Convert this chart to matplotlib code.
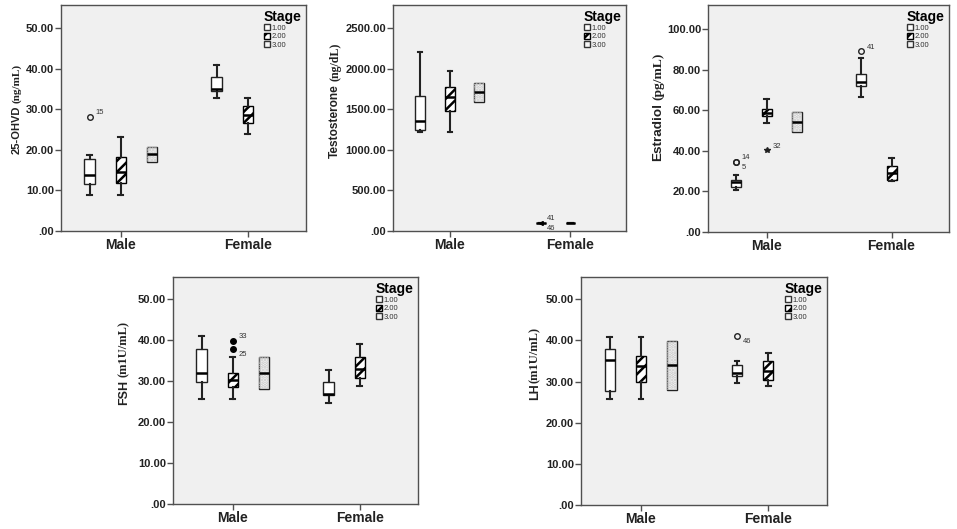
import matplotlib.pyplot as plt
import matplotlib.patches as mpatches
import numpy as np

plt.rcParams['font.family'] = ['Liberation Sans', 'DejaVu Sans']
plt.rcParams['hatch.linewidth'] = 1.8

# box stats per panel: [whislo, q1, med, q3, whishi] for (sex, stage)
sexes = ['Male', 'Female']
stages = ['1.00', '2.00', '3.00']

ohvd_male = [[8.9, 11.5, 13.7, 17.7, 18.8], [8.9, 11.8, 14.5, 18.3, 23.1], [16.9, 16.9, 18.9, 20.8, 20.8]]
ohvd_female = [[32.9, 34.6, 35.0, 37.9, 41.0], [23.9, 26.6, 28.5, 30.9, 32.8]]
ohvd_out = [(0, 0, 28.1, '15', 'o')]

testo_male = [[1225, 1246, 1361, 1669, 2204], [1225, 1480, 1650, 1780, 1978], [1591, 1591, 1715, 1830, 1830]]
testo_female = [[93, 96, 98, 100, 103], [97, 97, 98, 98, 98]]
testo_out = [(1, 0, 104, '41', '<'), (1, 0, 94, '46', '<')]

e2_male = [[20.8, 22.1, 24.4, 25.7, 27.9], [53.9, 56.9, 58.7, 60.7, 65.6], [49.2, 49.2, 54.1, 59.0, 59.0]]
e2_female = [[66.4, 72.0, 74.1, 77.9, 85.9], [25.0, 25.5, 29.0, 32.5, 36.5]]
e2_out = [(0, 0, 34.5, '14', 'o'), (0, 0, 34.4, '5', 'o'), (0, 1, 40.2, '32', '*'), (1, 0, 88.9, '41', 'o')]

fsh_male = [[25.6, 29.7, 31.8, 37.8, 40.9], [25.6, 28.6, 30.3, 31.8, 35.9], [28.0, 28.0, 32.0, 35.9, 35.9]]
fsh_female = [[24.7, 26.6, 26.7, 29.7, 32.7], [28.8, 30.6, 33.0, 35.8, 38.9]]
fsh_out = [(0, 1, 39.7, '33', 'filled'), (0, 1, 37.8, '25', 'filled')]

lh_male = [[25.8, 27.6, 35.3, 37.8, 40.9], [25.8, 29.8, 33.8, 36.1, 40.9], [28.0, 28.0, 34.0, 39.9, 39.9]]
lh_female = [[29.7, 31.4, 32.0, 34.0, 35.0], [28.8, 30.3, 32.5, 35.1, 36.9]]
lh_out = [(1, 0, 41.1, '46', 'o')]

W, H = 957, 529
fig = plt.figure(figsize=(W / 100, H / 100), dpi=100)

def px_axes(left, top, right, bottom):
    return fig.add_axes([left / W, 1 - bottom / H, (right - left) / W, (bottom - top) / H])

offset = 0.245
bw = 0.08
frame_col = '#505050'

def draw_panel(ax, male, female, outliers, ymax, step, ylab_main, ylab_unit, ylab_size,
               ylim_top, lab_x, lab_y, gap=2):
    ax.set_facecolor('#f0f0f0')
    for i, st in enumerate(male + female):
        sex = 0 if i < 3 else 1
        stage = i if i < 3 else i - 3
        stats = [dict(whislo=st[0], q1=st[1], med=st[2], q3=st[3], whishi=st[4], fliers=[])]
        pos = sex + (stage - 1) * offset
        face = ['white', 'white', '#f6f6f6'][stage]
        res = ax.bxp(stats, positions=[pos], widths=bw, patch_artist=True, showfliers=False,
                     boxprops=dict(facecolor=face, edgecolor='#222222', linewidth=1.0),
                     medianprops=dict(color='black', linewidth=1.8),
                     whiskerprops=dict(color='#222222', linewidth=1.5),
                     capprops=dict(color='#222222', linewidth=1.5),
                     capwidths=bw * 0.45, manage_ticks=False)
        box = res['boxes'][0]
        if stage == 1:
            box.set_hatch('///')
            box.set_edgecolor('black')
        elif stage == 2:
            ov = mpatches.PathPatch(box.get_path(), facecolor='none', edgecolor='#c8c8c8',
                                    hatch='.....', linewidth=0, zorder=box.get_zorder() + 0.05)
            ax.add_patch(ov)
            if st[0] == st[1]:
                for c in res['caps'] + res['whiskers']:
                    c.set_visible(False)
    for sex, stage, val, lab, mk in outliers:
        pos = sex + (stage - 1) * offset
        if mk == 'o':
            ax.plot(pos, val, 'o', mfc='none', mec='#222222', ms=4, mew=1, zorder=3)
        elif mk == 'filled':
            ax.plot(pos, val, 'o', color='black', ms=4, zorder=3)
        elif mk == '*':
            ax.plot(pos, val, '*', color='#222222', ms=4, zorder=3)
        else:
            ax.plot(pos, val, '<', color='black', ms=2.5, zorder=3)
        dy = -4 if lab in ('5', '46', '25') else 3
        ax.annotate(lab, (pos, val), xytext=(4, dy), textcoords='offset points',
                    fontsize=5.5, color='#333333', va='center')
    ax.set_xlim(-0.47, 1.46)
    ax.set_ylim(0, ylim_top)
    yt = np.arange(0, ymax + step / 2, step)
    ax.set_yticks(yt)
    ax.set_yticklabels(['.00'] + ['%.2f' % v for v in yt[1:]], fontsize=8, fontweight='bold', color='#222222')
    ax.set_xticks([0, 1])
    ax.set_xticklabels(sexes, fontsize=10, fontweight='bold', color='#222222')
    ax.tick_params(direction='out', length=4, width=1, color=frame_col, pad=1)
    for sp in ax.spines.values():
        sp.set_color(frame_col)
        sp.set_linewidth(1.0)
    ax.set_ylabel(ylab_main, fontsize=ylab_size, fontweight='bold', color='#222222')
    ax.yaxis.set_label_coords(lab_x, lab_y)
    ax.annotate(ylab_unit, xy=(0.5, 1.0), xycoords=ax.yaxis.label, xytext=(0, gap),
                textcoords='offset points', rotation=90, ha='center', va='bottom',
                fontsize=ylab_size, fontweight='bold', family='Liberation Serif', color='#222222')
    handles = [mpatches.Patch(facecolor='white', edgecolor='#333333', label=stages[0]),
               mpatches.Patch(facecolor='white', edgecolor='black', hatch='///', label=stages[1]),
               mpatches.Patch(facecolor='#f6f6f6', edgecolor='#333333', label=stages[2])]
    leg = ax.legend(handles=handles, title='Stage', loc='upper right', frameon=False,
                    fontsize=5.5, handlelength=0.9, handleheight=0.8, handletextpad=0.2,
                    labelspacing=0.1, borderaxespad=0.2, alignment='left')
    leg.get_title().set_fontweight('bold')
    leg.get_title().set_fontsize(10)
    for t in leg.get_texts():
        t.set_color('#333333')

ax1 = px_axes(61, 5, 306, 231)
draw_panel(ax1, ohvd_male, ohvd_female, ohvd_out, 50, 10, '25-OHVD', '(ng/mL)', 8, 55.7, -0.159, 0.447)
ax2 = px_axes(393, 5, 626, 231)
draw_panel(ax2, testo_male, testo_female, testo_out, 2500, 500, 'Testosterone', '(ng/dL)', 8.6, 2787, -0.223, 0.487)
ax3 = px_axes(708, 5, 949, 232)
draw_panel(ax3, e2_male, e2_female, e2_out, 100, 20, 'Estradiol', '(pg/mL)', 9.7, 111.8, -0.183, 0.44)
ax4 = px_axes(173, 277, 418, 504)
draw_panel(ax4, fsh_male, fsh_female, fsh_out, 50, 10, 'FSH', '(m1U/mL)', 9, 55.3, -0.176, 0.49)
ax5 = px_axes(581, 277, 827, 505)
draw_panel(ax5, lh_male, lh_female, lh_out, 50, 10, 'LH', '(m1U/mL)', 9, 55.4, -0.163, 0.496, gap=0.5)

fig.savefig('out.png', dpi=100)
